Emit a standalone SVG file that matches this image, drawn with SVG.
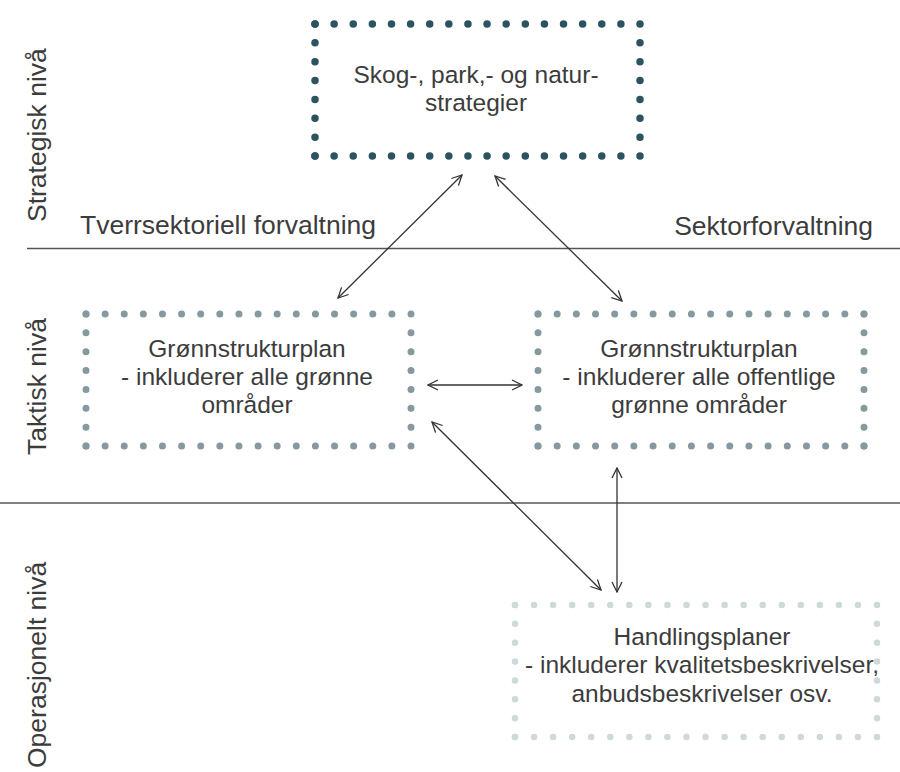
<svg xmlns="http://www.w3.org/2000/svg" width="900" height="772" viewBox="0 0 900 772">
<style>
text{font-family:"Liberation Sans",Arial,sans-serif;fill:#3c3c3c}
.bt{font-size:24.5px;text-anchor:middle}
.lb{font-size:26.5px}
.d1{stroke:#2b5460;stroke-width:7.5;stroke-linecap:round;fill:none}
.d2{stroke:#85999f;stroke-width:7;stroke-linecap:round;fill:none}
.d3{stroke:#cfd8da;stroke-width:6.5;stroke-linecap:round;fill:none}
.sep{stroke:#555;stroke-width:1.6}
.con{stroke:#333;stroke-width:1.3;fill:none;marker-start:url(#ah);marker-end:url(#ah)}
</style>
<defs>
<marker id="ah" viewBox="0 0 12 12" refX="11" refY="6" markerWidth="12" markerHeight="12" markerUnits="userSpaceOnUse" orient="auto-start-reverse">
<path d="M1,1 L11,6 L1,11" fill="none" stroke="#333" stroke-width="1.3"/>
</marker>
</defs>
<rect width="900" height="772" fill="#fff"/>
<g id="separators">
<line class="sep" x1="27" y1="248.5" x2="900" y2="248.5"/>
<line class="sep" x1="0" y1="503" x2="900" y2="503"/>
</g>
<g id="level-labels">
<text class="lb" transform="translate(46,222) rotate(-90)">Strategisk nivå</text>
<text class="lb" transform="translate(46,455) rotate(-90)">Taktisk nivå</text>
<text class="lb" transform="translate(46,768) rotate(-90)">Operasjonelt nivå</text>
<text class="lb" x="80" y="234">Tverrsektoriell forvaltning</text>
<text class="lb" x="873" y="235" text-anchor="end">Sektorforvaltning</text>
</g>
<g id="node-strategier">
<path class="d1" d="M315,24 H640" stroke-dasharray="0 19.118"/>
<path class="d1" d="M315,156 H640" stroke-dasharray="0 19.118"/>
<path class="d1" d="M315,24 V156" stroke-dasharray="0 18.857"/>
<path class="d1" d="M640,24 V156" stroke-dasharray="0 18.857"/>
<text class="bt" x="476" y="83">Skog-, park,- og natur-</text>
<text class="bt" x="476" y="111">strategier</text>
</g>
<g id="node-gronn-alle">
<path class="d2" d="M86,314 H411" stroke-dasharray="0 19.118"/>
<path class="d2" d="M86,446 H411" stroke-dasharray="0 19.118"/>
<path class="d2" d="M86,314 V446" stroke-dasharray="0 18.857"/>
<path class="d2" d="M411,314 V446" stroke-dasharray="0 18.857"/>
<text class="bt" x="247" y="357">Grønnstrukturplan</text>
<text class="bt" x="247" y="385">- inkluderer alle grønne</text>
<text class="bt" x="247" y="413">områder</text>
</g>
<g id="node-gronn-offentlige">
<path class="d2" d="M538,314 H864" stroke-dasharray="0 19.176"/>
<path class="d2" d="M538,446 H864" stroke-dasharray="0 19.176"/>
<path class="d2" d="M538,314 V446" stroke-dasharray="0 18.857"/>
<path class="d2" d="M864,314 V446" stroke-dasharray="0 18.857"/>
<text class="bt" x="699" y="357">Grønnstrukturplan</text>
<text class="bt" x="699" y="385">- inkluderer alle offentlige</text>
<text class="bt" x="699" y="413">grønne områder</text>
</g>
<g id="node-handlingsplaner">
<path class="d3" d="M515,605 H877" stroke-dasharray="0 19.053"/>
<path class="d3" d="M515,737 H877" stroke-dasharray="0 19.053"/>
<path class="d3" d="M515,605 V737" stroke-dasharray="0 18.857"/>
<path class="d3" d="M877,605 V737" stroke-dasharray="0 18.857"/>
<text class="bt" x="702" y="645">Handlingsplaner</text>
<text class="bt" x="702" y="673">- inkluderer kvalitetsbeskrivelser,</text>
<text class="bt" x="702" y="702">anbudsbeskrivelser osv.</text>
</g>
<g id="connectors">
<line class="con" x1="338" y1="298" x2="462" y2="175"/>
<line class="con" x1="495" y1="176" x2="622" y2="301"/>
<line class="con" x1="428" y1="385" x2="522" y2="385"/>
<line class="con" x1="432" y1="422" x2="601" y2="590"/>
<line class="con" x1="617" y1="468" x2="617" y2="592"/>
</g>
</svg>
